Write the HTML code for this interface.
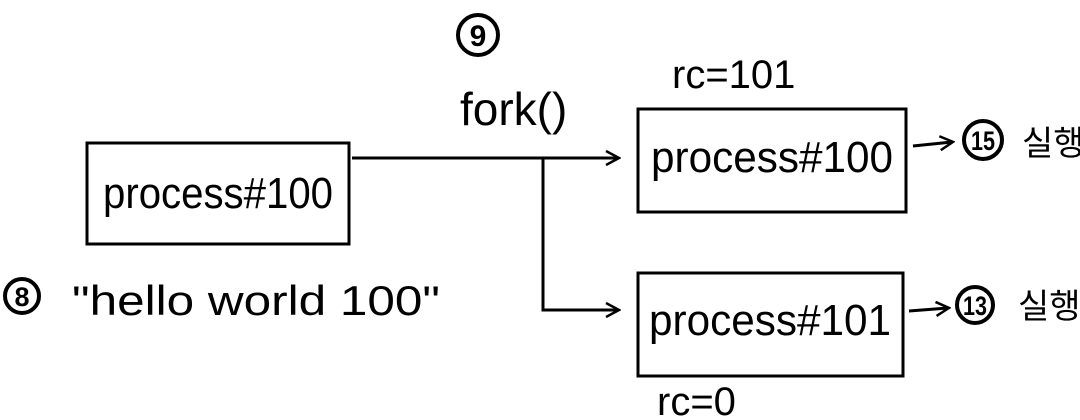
<!DOCTYPE html>
<html><head><meta charset="utf-8"><style>
html,body{margin:0;padding:0;background:#fff;}
svg{display:block;}
text{font-family:"Liberation Sans","Noto Sans CJK KR",sans-serif;fill:#000;}
</style></head><body>
<svg width="1080" height="420" viewBox="0 0 1080 420" xmlns="http://www.w3.org/2000/svg">
<defs>
<marker id="ah" markerWidth="16" markerHeight="16" refX="13" refY="8" orient="auto" markerUnits="userSpaceOnUse">
<path d="M1,1 L14,8 L1,15" fill="none" stroke="#000" stroke-width="2.5"/>
</marker>
</defs>
<g fill="none" stroke="#000" stroke-width="3">
<rect x="87" y="143" width="262" height="101"/>
<rect x="638" y="109" width="268" height="103"/>
<rect x="638" y="273" width="265" height="103"/>
<path d="M352 158 L618 158" marker-end="url(#ah)"/>
<path d="M543 158 L543 310 L618 310" marker-end="url(#ah)"/>
<path d="M913 146 L952 142" marker-end="url(#ah)"/>
<path d="M909 311 L948 308" marker-end="url(#ah)"/>
</g>
<g fill="none" stroke="#000" stroke-width="4">
<circle cx="478" cy="35" r="20"/>
<circle cx="22" cy="296" r="17"/>
<circle cx="983" cy="140" r="19"/>
<circle cx="975" cy="305" r="18"/>
</g>
<text x="478" y="46" font-size="30" font-weight="bold" text-anchor="middle">9</text>
<text x="22" y="306" font-size="27" font-weight="bold" text-anchor="middle">8</text>
<text x="983" y="150" font-size="27" font-weight="bold" text-anchor="middle" textLength="24" lengthAdjust="spacingAndGlyphs">15</text>
<text x="975" y="315" font-size="27" font-weight="bold" text-anchor="middle" textLength="24" lengthAdjust="spacingAndGlyphs">13</text>
<text x="460" y="125" font-size="46">fork()</text>
<text x="672" y="88" font-size="40">rc=101</text>
<text x="657" y="415" font-size="40">rc=0</text>
<text x="218" y="208" font-size="44" text-anchor="middle" textLength="230" lengthAdjust="spacingAndGlyphs">process#100</text>
<text x="772" y="172" font-size="44" text-anchor="middle" textLength="242" lengthAdjust="spacingAndGlyphs">process#100</text>
<text x="770" y="335" font-size="44" text-anchor="middle" textLength="242" lengthAdjust="spacingAndGlyphs">process#101</text>
<text x="72" y="315" font-size="42" textLength="368" lengthAdjust="spacingAndGlyphs">"hello world 100"</text>
<text x="1022" y="155" font-size="34">실행</text>
<text x="1018" y="318" font-size="34">실행</text>
</svg>
</body></html>
